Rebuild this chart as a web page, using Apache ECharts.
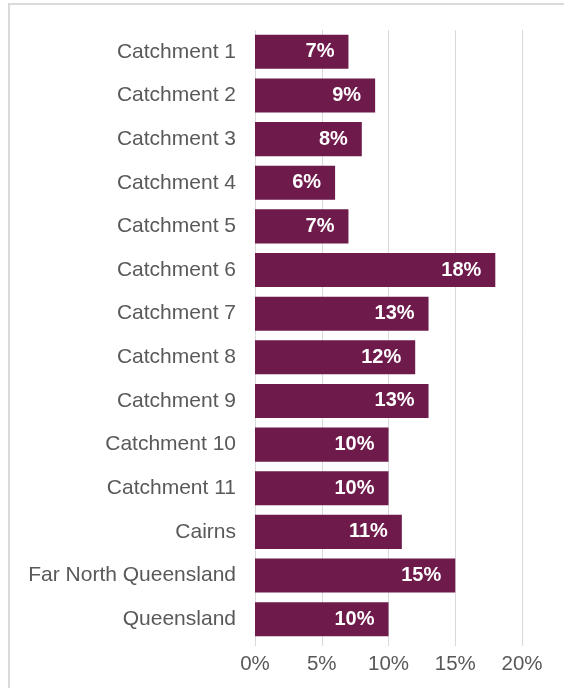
<!DOCTYPE html>
<html>
<head>
<meta charset="utf-8">
<script src="https://cdn.jsdelivr.net/npm/echarts@6/dist/echarts.min.js"></script>
<style>
  html, body { margin: 0; padding: 0; background: #fff; }
  #chart { width: 564px; height: 688px; }
</style>
</head>
<body>
<div id="chart"></div>
<script>
// Share of population by area (%)
const categories = [
  'Catchment 1', 'Catchment 2', 'Catchment 3', 'Catchment 4', 'Catchment 5',
  'Catchment 6', 'Catchment 7', 'Catchment 8', 'Catchment 9', 'Catchment 10',
  'Catchment 11', 'Cairns', 'Far North Queensland', 'Queensland'
];
const values = [7, 9, 8, 6, 7, 18, 13, 12, 13, 10, 10, 11, 15, 10];
const xTicks = [0, 5, 10, 15, 20];

const barColor = '#6E1A4B';
const textColor = '#595959';
const gridColor = '#D9D9D9';
const font = 'Liberation Sans, Arial, sans-serif';

const chart = echarts.init(document.getElementById('chart'), null, { renderer: 'canvas' });
chart.setOption({
  backgroundColor: '#fff',
  animation: false,
  graphic: [{
    type: 'rect',
    shape: { x: 9, y: 4, width: 600, height: 720 },
    style: { fill: 'none', stroke: gridColor, lineWidth: 2 },
    z: -1
  }],
  grid: { left: 255, right: 42, top: 30, bottom: 47, containLabel: false },
  xAxis: {
    type: 'value',
    min: xTicks[0],
    max: xTicks[xTicks.length - 1],
    interval: xTicks[1] - xTicks[0],
    axisLine: { show: false },
    axisTick: { show: true, length: 5, lineStyle: { color: gridColor, width: 1 } },
    splitLine: { show: true, lineStyle: { color: gridColor, width: 1 } },
    axisLabel: {
      formatter: v => v + '%',
      color: textColor, fontSize: 20.5, fontFamily: font, margin: 13
    }
  },
  yAxis: {
    type: 'category',
    inverse: true,
    data: categories,
    axisLine: { show: false },
    axisTick: { show: false },
    axisLabel: { color: textColor, fontSize: 21, fontFamily: font, margin: 19 }
  },
  series: [{
    type: 'bar',
    data: values,
    barCategoryGap: '22%',
    itemStyle: { color: barColor },
    label: {
      show: true,
      position: 'insideRight',
      distance: 14,
      formatter: p => p.value + '%',
      color: '#fff',
      fontWeight: 'bold',
      fontSize: 20,
      fontFamily: font
    }
  }]
});
</script>
</body>
</html>
